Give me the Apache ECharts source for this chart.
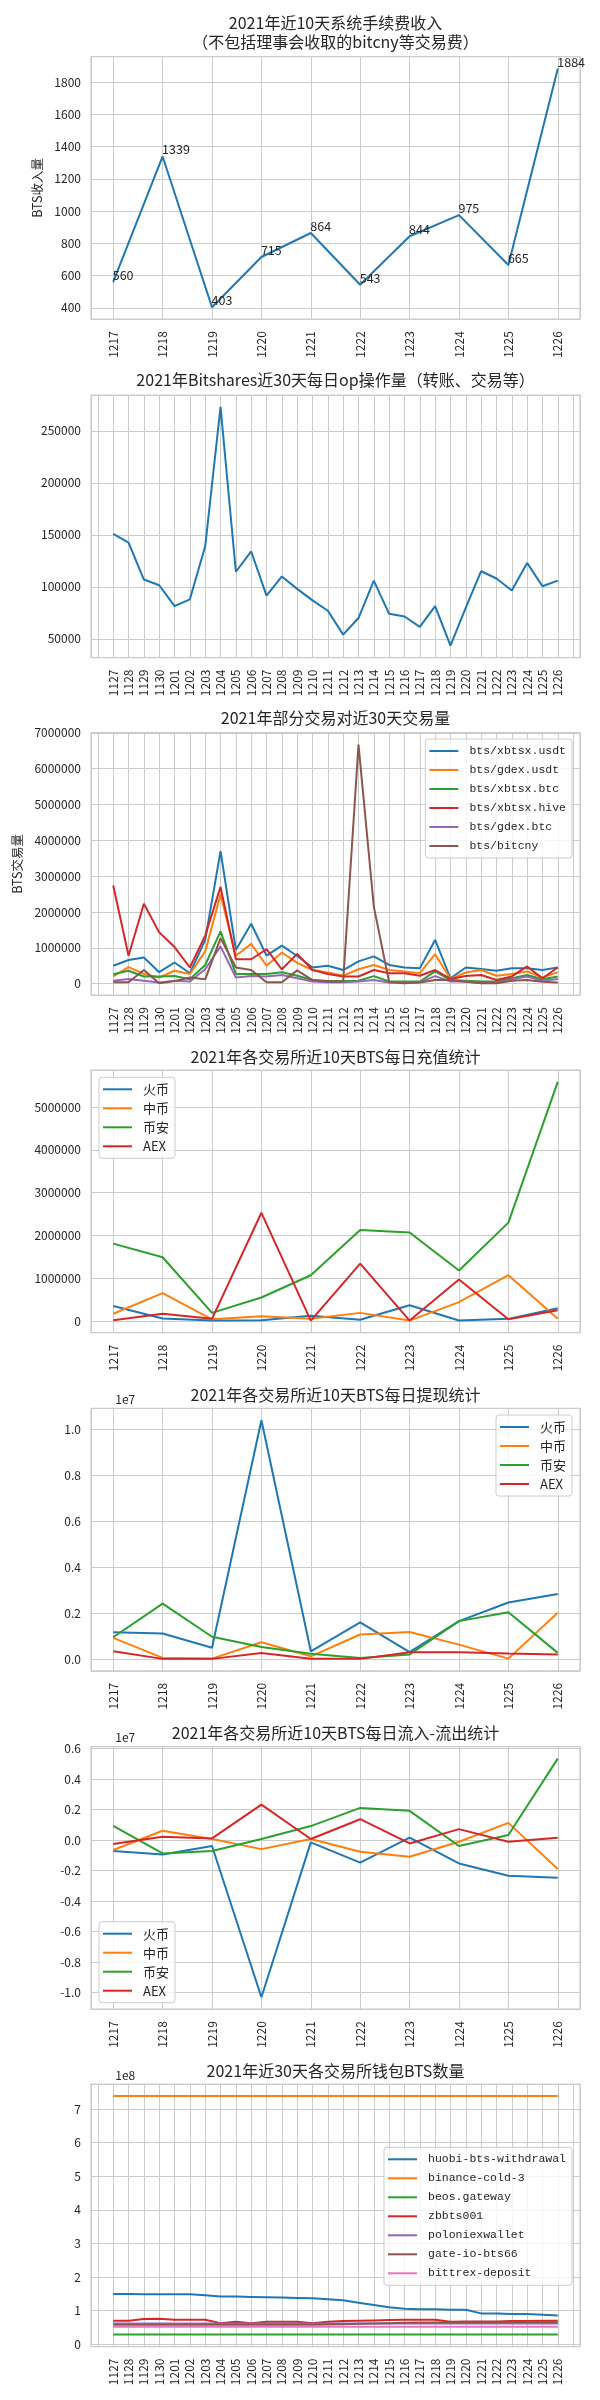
<!DOCTYPE html>
<html><head><meta charset="utf-8">
<script src="https://cdn.jsdelivr.net/npm/echarts@6/dist/echarts.min.js"></script>
<style>html,body{margin:0;padding:0;background:#fff}#c{width:600px;height:2400px}</style>
</head><body><div id="c"></div>
<script>
// ---------- categories ----------
const days10 = ['1217','1218','1219','1220','1221','1222','1223','1224','1225','1226'];
const days30 = ['1127','1128','1129','1130','1201','1202','1203','1204','1205','1206','1207','1208','1209','1210','1211','1212','1213','1214','1215','1216','1217','1218','1219','1220','1221','1222','1223','1224','1225','1226'];

// ---------- panel 1: fee income ----------
const feeIncome = [560,1339,403,715,864,543,844,975,665,1884];

// ---------- panel 2: daily op count ----------
const opCount = [151000,142500,107000,101500,81500,88000,139000,273000,114500,134000,91500,110000,98000,87000,77000,54000,70000,106000,74000,71500,61500,81500,43500,80000,115000,108000,96500,123000,100500,106000];

// ---------- panel 3: pair volumes ----------
const pairNames = ['bts/xbtsx.usdt','bts/gdex.usdt','bts/xbtsx.btc','bts/xbtsx.hive','bts/gdex.btc','bts/bitcny'];
const volXbtsxUsdt = [500000,660000,730000,320000,590000,290000,1220000,3700000,940000,1670000,780000,1060000,770000,450000,500000,380000,620000,760000,520000,450000,430000,1220000,150000,450000,410000,360000,430000,430000,380000,450000];
const volGdexUsdt  = [200000,460000,270000,170000,360000,270000,900000,2490000,780000,1110000,500000,870000,580000,380000,310000,220000,400000,520000,380000,340000,290000,820000,130000,310000,380000,220000,270000,340000,170000,320000];
const volXbtsxBtc  = [260000,360000,200000,200000,210000,120000,520000,1460000,270000,270000,270000,320000,220000,100000,70000,70000,80000,210000,60000,60000,60000,340000,100000,80000,60000,60000,150000,240000,120000,200000];
const volXbtsxHive = [2740000,780000,2230000,1430000,1020000,450000,1340000,2700000,680000,680000,960000,400000,830000,380000,270000,200000,200000,380000,290000,290000,220000,380000,130000,210000,240000,100000,200000,480000,150000,450000];
const volGdexBtc   = [80000,130000,80000,30000,80000,60000,400000,1040000,170000,210000,200000,240000,150000,60000,40000,40000,60000,100000,30000,40000,40000,210000,60000,60000,20000,20000,120000,200000,80000,130000];
const volBitcny    = [40000,40000,380000,10000,70000,170000,120000,1270000,450000,380000,40000,40000,370000,100000,60000,60000,6670000,2150000,40000,10000,30000,100000,100000,50000,10000,10000,80000,100000,50000,30000];

// ---------- panels 4-6: exchanges ----------
const exNames = ['火币','中币','币安','AEX'];
const depHuobi   = [350000,60000,10000,15000,120000,30000,370000,10000,50000,300000];
const depZb      = [170000,650000,40000,110000,50000,190000,10000,440000,1070000,50000];
const depBinance = [1810000,1490000,190000,550000,1070000,2130000,2070000,1180000,2300000,5590000];
const depAex     = [15000,170000,50000,2530000,10000,1340000,10000,970000,40000,250000];

const wdHuobi   = [1190000,1130000,510000,10400000,360000,1620000,320000,1670000,2480000,2850000];
const wdZb      = [940000,70000,40000,750000,140000,1090000,1200000,650000,40000,2030000];
const wdBinance = [970000,2430000,990000,550000,250000,70000,220000,1670000,2060000,290000];
const wdAex     = [360000,30000,30000,290000,40000,30000,320000,320000,260000,220000];

const netHuobi   = [-720000,-940000,-390000,-10300000,-150000,-1480000,170000,-1530000,-2330000,-2460000];
const netZb      = [-650000,610000,70000,-590000,70000,-760000,-1090000,-110000,1130000,-1900000];
const netBinance = [940000,-870000,-720000,70000,920000,2110000,1920000,-390000,330000,5340000];
const netAex     = [-260000,220000,110000,2330000,70000,1370000,-220000,720000,-110000,150000];

// ---------- panel 7: wallet balances ----------
const walletNames = ['huobi-bts-withdrawal','binance-cold-3','beos.gateway','zbbts001','poloniexwallet','gate-io-bts66','bittrex-deposit'];
const walHuobi   = [1.50e8,1.50e8,1.49e8,1.49e8,1.49e8,1.49e8,1.46e8,1.42e8,1.42e8,1.41e8,1.40e8,1.39e8,1.38e8,1.37e8,1.34e8,1.31e8,1.24e8,1.17e8,1.10e8,1.06e8,1.04e8,1.04e8,1.03e8,1.03e8,0.92e8,0.92e8,0.90e8,0.90e8,0.88e8,0.86e8];
const walBinance = [7.39e8,7.39e8,7.39e8,7.39e8,7.39e8,7.39e8,7.39e8,7.39e8,7.39e8,7.39e8,7.39e8,7.39e8,7.39e8,7.39e8,7.39e8,7.39e8,7.39e8,7.39e8,7.39e8,7.39e8,7.39e8,7.39e8,7.39e8,7.39e8,7.39e8,7.39e8,7.39e8,7.39e8,7.39e8,7.39e8];
const walBeos    = [0.29e8,0.29e8,0.29e8,0.29e8,0.29e8,0.29e8,0.29e8,0.29e8,0.29e8,0.29e8,0.29e8,0.29e8,0.29e8,0.29e8,0.29e8,0.29e8,0.29e8,0.29e8,0.29e8,0.29e8,0.29e8,0.29e8,0.29e8,0.29e8,0.29e8,0.29e8,0.29e8,0.29e8,0.29e8,0.29e8];
const walZb      = [0.70e8,0.70e8,0.75e8,0.76e8,0.73e8,0.73e8,0.73e8,0.63e8,0.67e8,0.63e8,0.67e8,0.67e8,0.67e8,0.63e8,0.67e8,0.69e8,0.70e8,0.71e8,0.72e8,0.73e8,0.73e8,0.73e8,0.67e8,0.68e8,0.68e8,0.68e8,0.69e8,0.69e8,0.70e8,0.70e8];
const walPolo    = [0.62e8,0.62e8,0.62e8,0.62e8,0.62e8,0.62e8,0.62e8,0.62e8,0.62e8,0.62e8,0.62e8,0.62e8,0.62e8,0.62e8,0.62e8,0.62e8,0.62e8,0.62e8,0.62e8,0.62e8,0.62e8,0.62e8,0.62e8,0.62e8,0.62e8,0.62e8,0.62e8,0.62e8,0.62e8,0.62e8];
const walGate    = [0.58e8,0.58e8,0.58e8,0.58e8,0.58e8,0.58e8,0.58e8,0.58e8,0.58e8,0.58e8,0.58e8,0.58e8,0.58e8,0.58e8,0.59e8,0.60e8,0.61e8,0.62e8,0.63e8,0.64e8,0.65e8,0.65e8,0.65e8,0.65e8,0.65e8,0.66e8,0.66e8,0.66e8,0.66e8,0.66e8];
const walBittrex = [0.52e8,0.52e8,0.52e8,0.52e8,0.52e8,0.52e8,0.52e8,0.52e8,0.52e8,0.52e8,0.52e8,0.52e8,0.52e8,0.52e8,0.52e8,0.52e8,0.52e8,0.52e8,0.52e8,0.52e8,0.52e8,0.52e8,0.52e8,0.52e8,0.52e8,0.52e8,0.52e8,0.52e8,0.52e8,0.52e8];

// ---------- titles ----------
const titles = [
  '2021年近10天系统手续费收入\n（不包括理事会收取的bitcny等交易费）',
  '2021年Bitshares近30天每日op操作量（转账、交易等）',
  '2021年部分交易对近30天交易量',
  '2021年各交易所近10天BTS每日充值统计',
  '2021年各交易所近10天BTS每日提现统计',
  '2021年各交易所近10天BTS每日流入-流出统计',
  '2021年近30天各交易所钱包BTS数量'
];

// ---------- style / layout ----------
const FONT = '"Noto Sans CJK SC", sans-serif';
const MONO = '"Liberation Mono", "Noto Sans CJK SC", monospace';
const TXT = '#262626';
const GC = '#cccccc';
const PAL = ['#1f77b4','#ff7f0e','#2ca02c','#d62728','#9467bd','#8c564b','#e377c2'];
const TOPS = [56.7, 395, 732.7, 1070, 1408.3, 1746.7, 2084];
const PH = 262.5;
const TITLE_CENTERS = [23, 380, 718, 1056.7, 1395, 1733.3, 2070.7];
const TICK_FS = 12;

function isMult(v, step) { const r = v / step; return Math.abs(r - Math.round(r)) < 1e-6; }
function limits(arrs) {
  let lo = Infinity, hi = -Infinity;
  arrs.forEach(a => a.forEach(v => { if (v < lo) lo = v; if (v > hi) hi = v; }));
  const m = (hi - lo) * 0.05;
  return [lo - m, hi + m];
}
function xAx(gi, cats) {
  const n = cats.length - 1;
  return {
    type: 'value', gridIndex: gi, min: -0.05 * n, max: n * 1.05,
    minInterval: 1, maxInterval: 1, splitNumber: n + 2,
    axisLine: {show: false}, axisTick: {show: false},
    splitLine: {show: true, lineStyle: {color: GC, width: 1}},
    axisLabel: {rotate: 90, margin: 12, fontFamily: FONT, fontSize: TICK_FS, color: TXT,
      showMinLabel: true, showMaxLabel: true,
      formatter: v => (isMult(v, 1) && v >= -1e-9 && v <= n + 1e-9) ? cats[Math.round(v)] : ''}
  };
}
function yAx(gi, arrs, step, fmt, extra) {
  const [lo, hi] = limits(arrs);
  return Object.assign({
    type: 'value', gridIndex: gi, min: lo, max: hi,
    minInterval: step, maxInterval: step, splitNumber: Math.ceil((hi - lo) / step) + 1,
    axisLine: {show: false}, axisTick: {show: false},
    splitLine: {show: true, lineStyle: {color: GC, width: 1}},
    axisLabel: {margin: 10, fontFamily: FONT, fontSize: TICK_FS, color: TXT,
      formatter: v => isMult(v, step) ? fmt(v) : ''}
  }, extra || {});
}
function ln(gi, name, data, color, extra) {
  return Object.assign({
    type: 'line', name: name, xAxisIndex: gi, yAxisIndex: gi,
    data: data.map((v, i) => [i, v]),
    symbol: 'none', lineStyle: {color: color, width: 2}, itemStyle: {color: color},
    animation: false, silent: true
  }, extra || {});
}
function lg(names, pos, font, fs) {
  return Object.assign({
    orient: 'vertical', data: names, icon: 'rect', itemWidth: 29, itemHeight: 2,
    itemGap: 5, padding: [5, 6, 5, 4], selectedMode: false,
    backgroundColor: 'rgba(255,255,255,0.8)', borderColor: GC, borderWidth: 1, borderRadius: 3,
    textStyle: {fontFamily: font, fontSize: fs, color: TXT, lineHeight: 14, padding: [0, 0, 0, 6]}
  }, pos);
}
const offName = (txt, gap) => ({
  name: txt, nameLocation: 'end', nameGap: gap,
  nameTextStyle: {fontFamily: FONT, fontSize: TICK_FS, color: TXT, align: 'left', verticalAlign: 'middle', padding: [0, 0, 0, 2]}
});
const midName = (txt, gap) => ({
  name: txt, nameLocation: 'middle', nameGap: gap,
  nameTextStyle: {fontFamily: FONT, fontSize: 12.5, color: TXT}
});

const grids = TOPS.map(t => ({left: 91, right: 20, top: t, height: PH, show: true,
  borderColor: GC, borderWidth: 1.25, backgroundColor: '#fff', containLabel: false}));

const xAxes = [xAx(0, days10), xAx(1, days30), xAx(2, days30), xAx(3, days10), xAx(4, days10), xAx(5, days10), xAx(6, days30)];

const pairData = [volXbtsxUsdt, volGdexUsdt, volXbtsxBtc, volXbtsxHive, volGdexBtc, volBitcny];
const depData = [depHuobi, depZb, depBinance, depAex];
const wdData = [wdHuobi, wdZb, wdBinance, wdAex];
const netData = [netHuobi, netZb, netBinance, netAex];
const walData = [walHuobi, walBinance, walBeos, walZb, walPolo, walGate, walBittrex];

const yAxes = [
  yAx(0, [feeIncome], 200, v => String(Math.round(v)), midName('BTS收入量', 43)),
  yAx(1, [opCount], 50000, v => String(Math.round(v))),
  yAx(2, pairData, 1000000, v => String(Math.round(v)), midName('BTS交易量', 66)),
  yAx(3, depData, 1000000, v => String(Math.round(v))),
  yAx(4, wdData, 2000000, v => (v / 1e7).toFixed(1), offName('1e7', 9)),
  yAx(5, netData, 2000000, v => (v / 1e7).toFixed(1), offName('1e7', 9)),
  yAx(6, walData, 1e8, v => (v / 1e8).toFixed(0), offName('1e8', 8.5))
];

const series = [];
series.push(ln(0, 'fee', feeIncome, PAL[0], {
  symbol: 'circle', symbolSize: 1, showSymbol: true,
  label: {show: true, position: [0, 0], align: 'left', verticalAlign: 'bottom',
    fontFamily: FONT, fontSize: 12.5, color: TXT, formatter: p => String(p.value[1])}
}));
series.push(ln(1, 'ops', opCount, PAL[0]));
pairNames.forEach((n, i) => series.push(ln(2, n, pairData[i], PAL[i])));
exNames.forEach((n, i) => series.push(ln(3, n, depData[i], PAL[i])));
exNames.forEach((n, i) => series.push(ln(4, n, wdData[i], PAL[i])));
exNames.forEach((n, i) => series.push(ln(5, n, netData[i], PAL[i])));
walletNames.forEach((n, i) => series.push(ln(6, n, walData[i], PAL[i])));

const titleCfg = titles.map((t, i) => ({
  text: t, left: 335.5, textAlign: 'center', top: TITLE_CENTERS[i] - 9.5, padding: 0,
  textStyle: {fontFamily: FONT, fontSize: 16, fontWeight: 'normal', color: TXT, lineHeight: 19}
}));

const legends = [
  lg(pairNames, {right: 28, top: 739}, MONO, 11.5),
  lg(exNames, {left: 99, top: 1077.3}, FONT, 13),
  lg(exNames, {right: 28, top: 1415}, FONT, 13),
  lg(exNames, {left: 99, top: 1921.7}, FONT, 13),
  lg(walletNames, {right: 28, top: 2147.3}, MONO, 11.5)
];

const chart = echarts.init(document.getElementById('c'), null, {renderer: 'canvas'});
chart.setOption({
  animation: false,
  backgroundColor: '#fff',
  title: titleCfg,
  grid: grids,
  xAxis: xAxes,
  yAxis: yAxes,
  legend: legends,
  series: series
});
</script></body></html>
